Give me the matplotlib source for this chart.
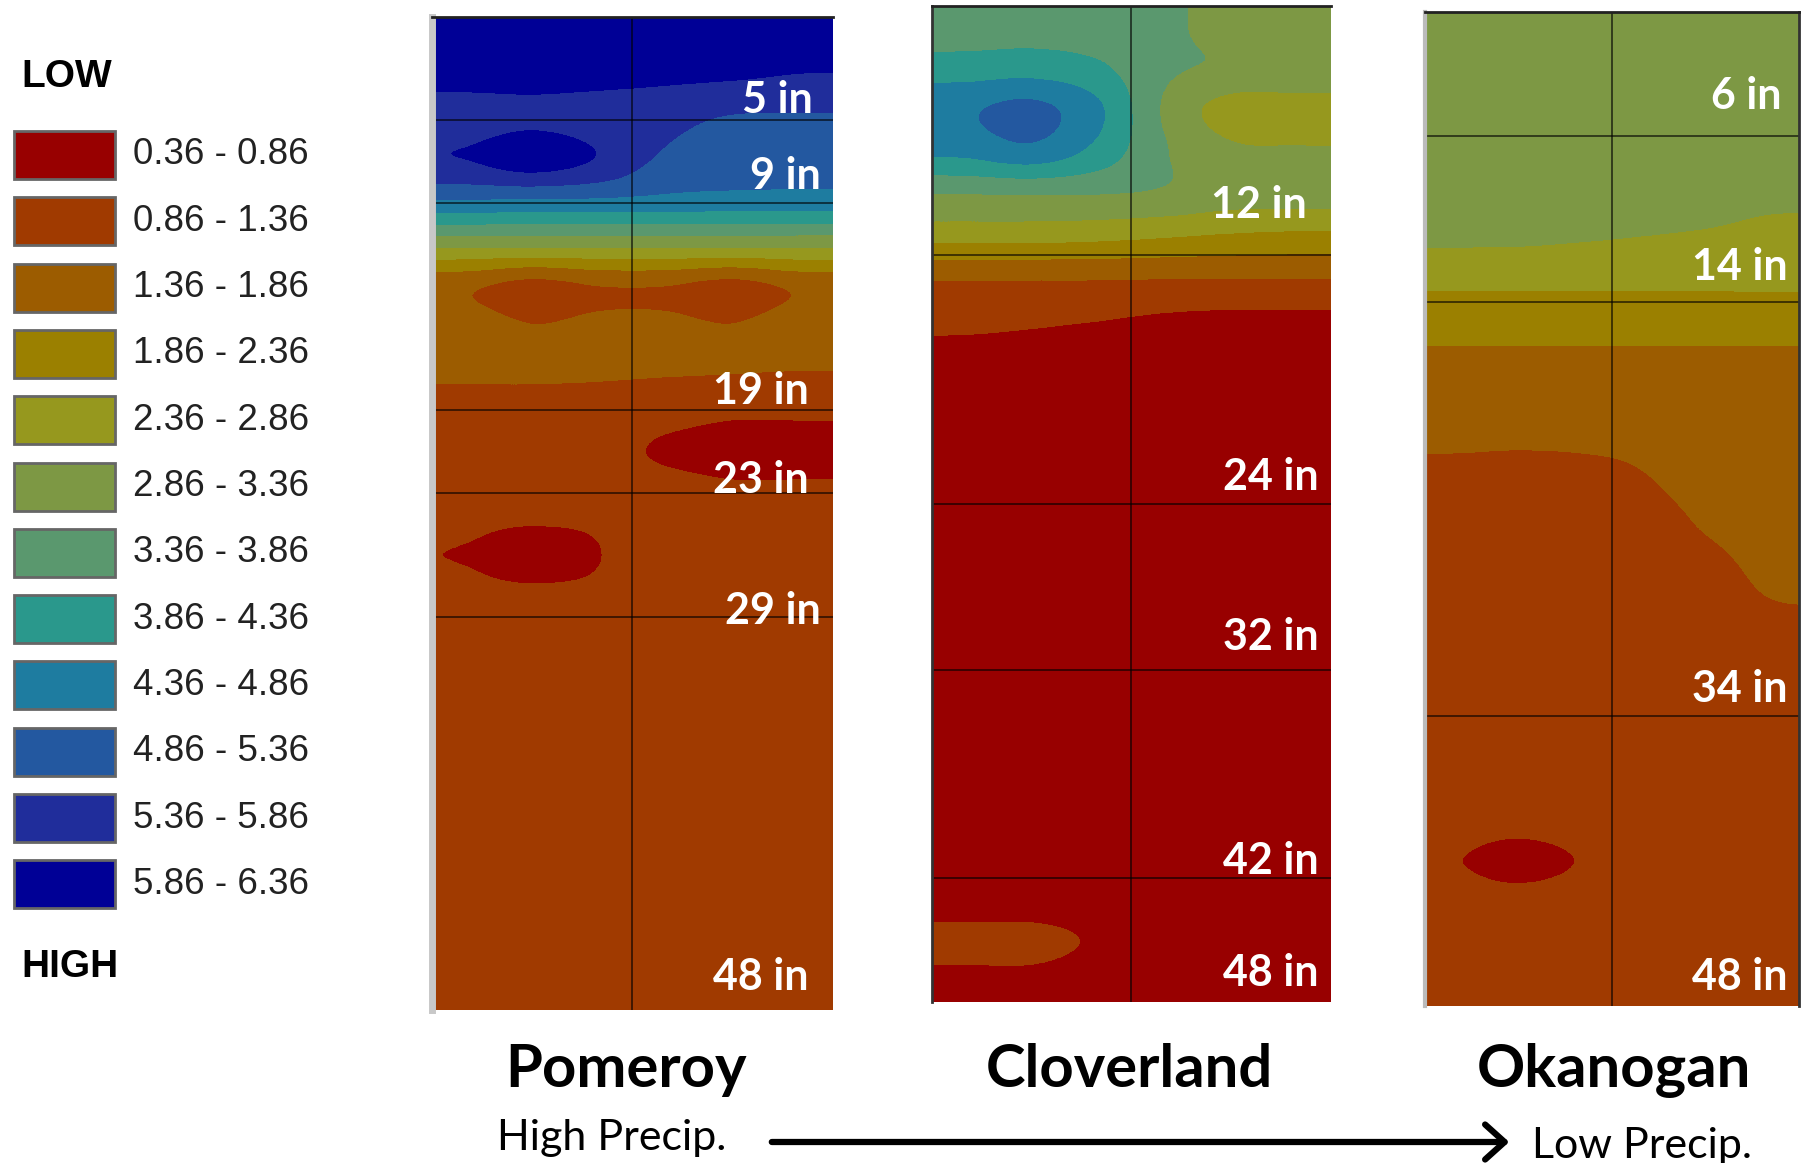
"""Soil moisture profiles at three sites, drawn as banded contour panels."""

import matplotlib
matplotlib.use("Agg")
import matplotlib.pyplot as plt
from matplotlib.colors import ListedColormap, BoundaryNorm
from matplotlib.patches import Rectangle, FancyArrowPatch
import numpy as np

# ---- data -------------------------------------------------------------
level_bounds = [0.36, 0.86, 1.36, 1.86, 2.36, 2.86, 3.36, 3.86, 4.36, 4.86, 5.36, 5.86, 6.36]
band_colors = ["#980000", "#a03a00", "#9c5c00", "#9b8000", "#96981e", "#7d9844",
               "#5a986e", "#2a988c", "#1e7ca0", "#2358a0", "#202d9b", "#000096"]
band_labels = ["0.36 - 0.86", "0.86 - 1.36", "1.36 - 1.86", "1.86 - 2.36",
               "2.36 - 2.86", "2.86 - 3.36", "3.36 - 3.86", "3.86 - 4.36",
               "4.36 - 4.86", "4.86 - 5.36", "5.36 - 5.86", "5.86 - 6.36"]

sites = ["Pomeroy", "Cloverland", "Okanogan"]
precip_ends = ["High Precip.", "Low Precip."]

pomeroy_depths = [5, 9, 19, 23, 29, 48]
cloverland_depths = [12, 24, 32, 42, 48]
okanogan_depths = [6, 14, 34, 48]

# readings on a 2-inch grid (rows: 1, 3, ... 47 in deep), six positions across
pomeroy_grid = [
    [6.15, 6.15, 6.15, 6.12, 6.10, 6.00],
    [5.96, 5.95, 5.95, 5.92, 5.88, 5.82],
    [5.68, 5.78, 5.66, 5.50, 5.30, 5.28],
    [5.84, 6.10, 5.80, 5.25, 5.15, 5.10],
    [4.75, 4.70, 4.70, 4.65, 4.60, 4.60],
    [3.00, 3.00, 3.00, 3.00, 3.00, 3.00],
    [1.46, 1.18, 1.37, 1.37, 1.18, 1.46],
    [1.60, 1.38, 1.47, 1.47, 1.38, 1.60],
    [1.50, 1.48, 1.45, 1.42, 1.40, 1.38],
    [1.12, 1.12, 1.12, 1.05, 0.95, 0.95],
    [1.10, 1.10, 1.02, 0.80, 0.70, 0.70],
    [1.10, 1.10, 1.10, 1.05, 0.95, 0.95],
    [0.88, 0.82, 0.88, 1.10, 1.10, 1.10],
    [0.88, 0.82, 0.88, 1.10, 1.10, 1.10],
    [1.10, 1.10, 1.10, 1.10, 1.10, 1.10],
    [1.10, 1.10, 1.10, 1.10, 1.10, 1.10],
    [1.10, 1.10, 1.10, 1.10, 1.10, 1.10],
    [1.10, 1.10, 1.10, 1.10, 1.10, 1.10],
    [1.10, 1.10, 1.10, 1.10, 1.10, 1.10],
    [1.10, 1.10, 1.10, 1.10, 1.10, 1.10],
    [1.10, 1.10, 1.10, 1.10, 1.10, 1.10],
    [1.10, 1.10, 1.10, 1.10, 1.10, 1.10],
    [1.10, 1.10, 1.10, 1.10, 1.10, 1.10],
    [1.10, 1.10, 1.10, 1.10, 1.10, 1.10],
]

cloverland_grid = [
    [3.60, 3.65, 3.60, 3.45, 3.20, 3.15],
    [4.10, 4.15, 3.95, 3.45, 3.30, 3.25],
    [4.80, 5.00, 4.45, 3.30, 2.65, 2.65],
    [4.50, 4.72, 4.20, 3.40, 2.95, 2.90],
    [3.40, 3.42, 3.40, 3.30, 3.10, 3.10],
    [2.60, 2.60, 2.55, 2.45, 2.35, 2.30],
    [1.45, 1.45, 1.45, 1.43, 1.42, 1.42],
    [0.98, 0.95, 0.90, 0.82, 0.78, 0.78],
    [0.75, 0.72, 0.66, 0.62, 0.62, 0.62],
    [0.60, 0.60, 0.60, 0.60, 0.60, 0.60],
    [0.60, 0.60, 0.60, 0.60, 0.60, 0.60],
    [0.60, 0.60, 0.60, 0.60, 0.60, 0.60],
    [0.60, 0.60, 0.60, 0.60, 0.60, 0.60],
    [0.60, 0.60, 0.60, 0.60, 0.60, 0.60],
    [0.60, 0.60, 0.60, 0.60, 0.60, 0.60],
    [0.60, 0.60, 0.60, 0.60, 0.60, 0.60],
    [0.60, 0.60, 0.60, 0.60, 0.60, 0.60],
    [0.60, 0.60, 0.60, 0.60, 0.60, 0.60],
    [0.60, 0.60, 0.60, 0.60, 0.60, 0.60],
    [0.60, 0.60, 0.60, 0.60, 0.60, 0.60],
    [0.60, 0.60, 0.60, 0.60, 0.60, 0.60],
    [0.60, 0.60, 0.60, 0.60, 0.60, 0.60],
    [1.00, 1.00, 0.80, 0.60, 0.60, 0.60],
    [0.75, 0.75, 0.65, 0.60, 0.60, 0.60],
]

okanogan_grid = [
    [3.10, 3.10, 3.10, 3.10, 3.10, 3.10],
    [3.10, 3.10, 3.10, 3.10, 3.10, 3.10],
    [3.10, 3.10, 3.10, 3.10, 3.10, 3.10],
    [3.10, 3.10, 3.10, 3.10, 3.08, 3.05],
    [3.05, 3.05, 3.02, 3.00, 2.98, 2.92],
    [2.93, 2.92, 2.88, 2.84, 2.80, 2.75],
    [2.46, 2.46, 2.46, 2.46, 2.46, 2.46],
    [2.05, 2.05, 2.05, 2.05, 2.05, 2.05],
    [1.75, 1.75, 1.75, 1.75, 1.75, 1.75],
    [1.60, 1.60, 1.60, 1.60, 1.60, 1.60],
    [1.40, 1.38, 1.40, 1.45, 1.60, 1.65],
    [1.15, 1.15, 1.15, 1.30, 1.50, 1.60],
    [1.10, 1.10, 1.10, 1.15, 1.38, 1.55],
    [1.10, 1.10, 1.10, 1.10, 1.20, 1.45],
    [1.10, 1.10, 1.10, 1.10, 1.10, 1.30],
    [1.10, 1.10, 1.10, 1.10, 1.10, 1.10],
    [1.10, 1.10, 1.10, 1.10, 1.10, 1.10],
    [1.10, 1.10, 1.10, 1.10, 1.10, 1.10],
    [1.10, 1.10, 1.10, 1.10, 1.10, 1.10],
    [1.02, 1.00, 1.05, 1.10, 1.10, 1.10],
    [0.87, 0.74, 0.88, 1.10, 1.10, 1.10],
    [1.02, 1.00, 1.05, 1.10, 1.10, 1.10],
    [1.10, 1.10, 1.10, 1.10, 1.10, 1.10],
    [1.10, 1.10, 1.10, 1.10, 1.10, 1.10],
]

# ---- layout (pixels of the 1808 x 1163 canvas) -------------------------
W, H = 1808, 1163
MAX_DEPTH = 48
panel_boxes = [(432, 17, 833, 1010), (932, 6, 1331, 1002), (1425, 12, 1799, 1006)]
label_x = [[0.95, 0.97, 0.94, 0.94, 0.97, 0.94],
           [0.94, 0.968, 0.968, 0.968, 0.968],
           [0.954, 0.969, 0.969, 0.969]]
label_y = [[4.0, 7.7, 18.1, 22.4, 28.7, 46.4],
           [9.6, 22.7, 30.4, 41.2, 46.6],
           [4.06, 12.3, 32.7, 46.6]]
title_x = [626, 1129, 1614]

cmap = ListedColormap(band_colors)
norm = BoundaryNorm(level_bounds, cmap.N)

fig = plt.figure(figsize=(W / 100, H / 100), dpi=100)
over = fig.add_axes([0, 0, 1, 1], zorder=0)
over.set_xlim(0, W)
over.set_ylim(H, 0)
over.axis("off")

grids = [pomeroy_grid, cloverland_grid, okanogan_grid]
depth_sets = [pomeroy_depths, cloverland_depths, okanogan_depths]

for i, (grid, depths, box) in enumerate(zip(grids, depth_sets, panel_boxes)):
    x0, y0, x1, y1 = box
    ax = fig.add_axes([x0 / W, 1 - y1 / H, (x1 - x0) / W, (y1 - y0) / H], zorder=2)
    ax.imshow(np.array(grid), cmap=cmap, norm=norm, aspect="auto",
              extent=(0, 1, MAX_DEPTH, 0), interpolation="catrom",
              interpolation_stage="data")
    ax.set_xlim(0, 1)
    ax.set_ylim(MAX_DEPTH, 0)
    ax.set_xticks([])
    ax.set_yticks([])
    for d in depths[:-1]:
        ax.axhline(d, color="black", lw=1.3, alpha=0.65)
    ax.axvline(0.5, color="black", lw=1.3, alpha=0.65)
    for d, lx, ly in zip(depths, label_x[i], label_y[i]):
        ax.text(lx, ly, f"{d} in", color="white", fontsize=31, fontweight="bold",
                family="Lato", ha="right", va="center")
    for side in ["bottom", "right", "left", "top"]:
        ax.spines[side].set_visible(False)
    ax.spines["top"].set_visible(True)
    ax.spines["top"].set_color("#222222")
    ax.spines["top"].set_linewidth(2)
    if i == 0:
        ax.spines["left"].set_visible(True)
        ax.spines["left"].set_color("#c8c8c8")
        ax.spines["left"].set_linewidth(5)
    elif i == 1:
        ax.spines["left"].set_visible(True)
        ax.spines["left"].set_color("#333333")
        ax.spines["left"].set_linewidth(2)
    else:
        ax.spines["left"].set_visible(True)
        ax.spines["left"].set_color("#bbbbbb")
        ax.spines["left"].set_linewidth(3)
        ax.spines["right"].set_visible(True)
        ax.spines["right"].set_color("#333333")
        ax.spines["right"].set_linewidth(2)

    over.text(title_x[i], 1087, sites[i], fontsize=43, fontweight="bold",
              family="Lato", ha="center", va="baseline")

# legend
over.text(21, 77, "LOW", fontsize=28, fontweight="bold", family="Liberation Sans",
          ha="left", va="center")
over.text(21, 967, "HIGH", fontsize=28, fontweight="bold", family="Liberation Sans",
          ha="left", va="center")
for k, (col, lab) in enumerate(zip(band_colors, band_labels)):
    yc = 155 + 66.3 * k
    over.add_patch(Rectangle((14, yc - 24), 101, 48, facecolor=col,
                             edgecolor="#666666", lw=2))
    over.text(133, yc, lab, fontsize=26.5, family="Liberation Sans", color="#222222",
              ha="left", va="center")

# precipitation gradient
over.text(612, 1150, precip_ends[0], fontsize=31, family="Lato", ha="center", va="baseline")
over.text(1642, 1158, precip_ends[1], fontsize=31, family="Lato", ha="center", va="baseline")
over.add_patch(FancyArrowPatch((769, 1142), (1512, 1142),
                               arrowstyle="->,head_length=0.5,head_width=0.45",
                               mutation_scale=28, lw=4.5, color="black"))

fig.savefig("out.png", dpi=100)
plt.close(fig)
